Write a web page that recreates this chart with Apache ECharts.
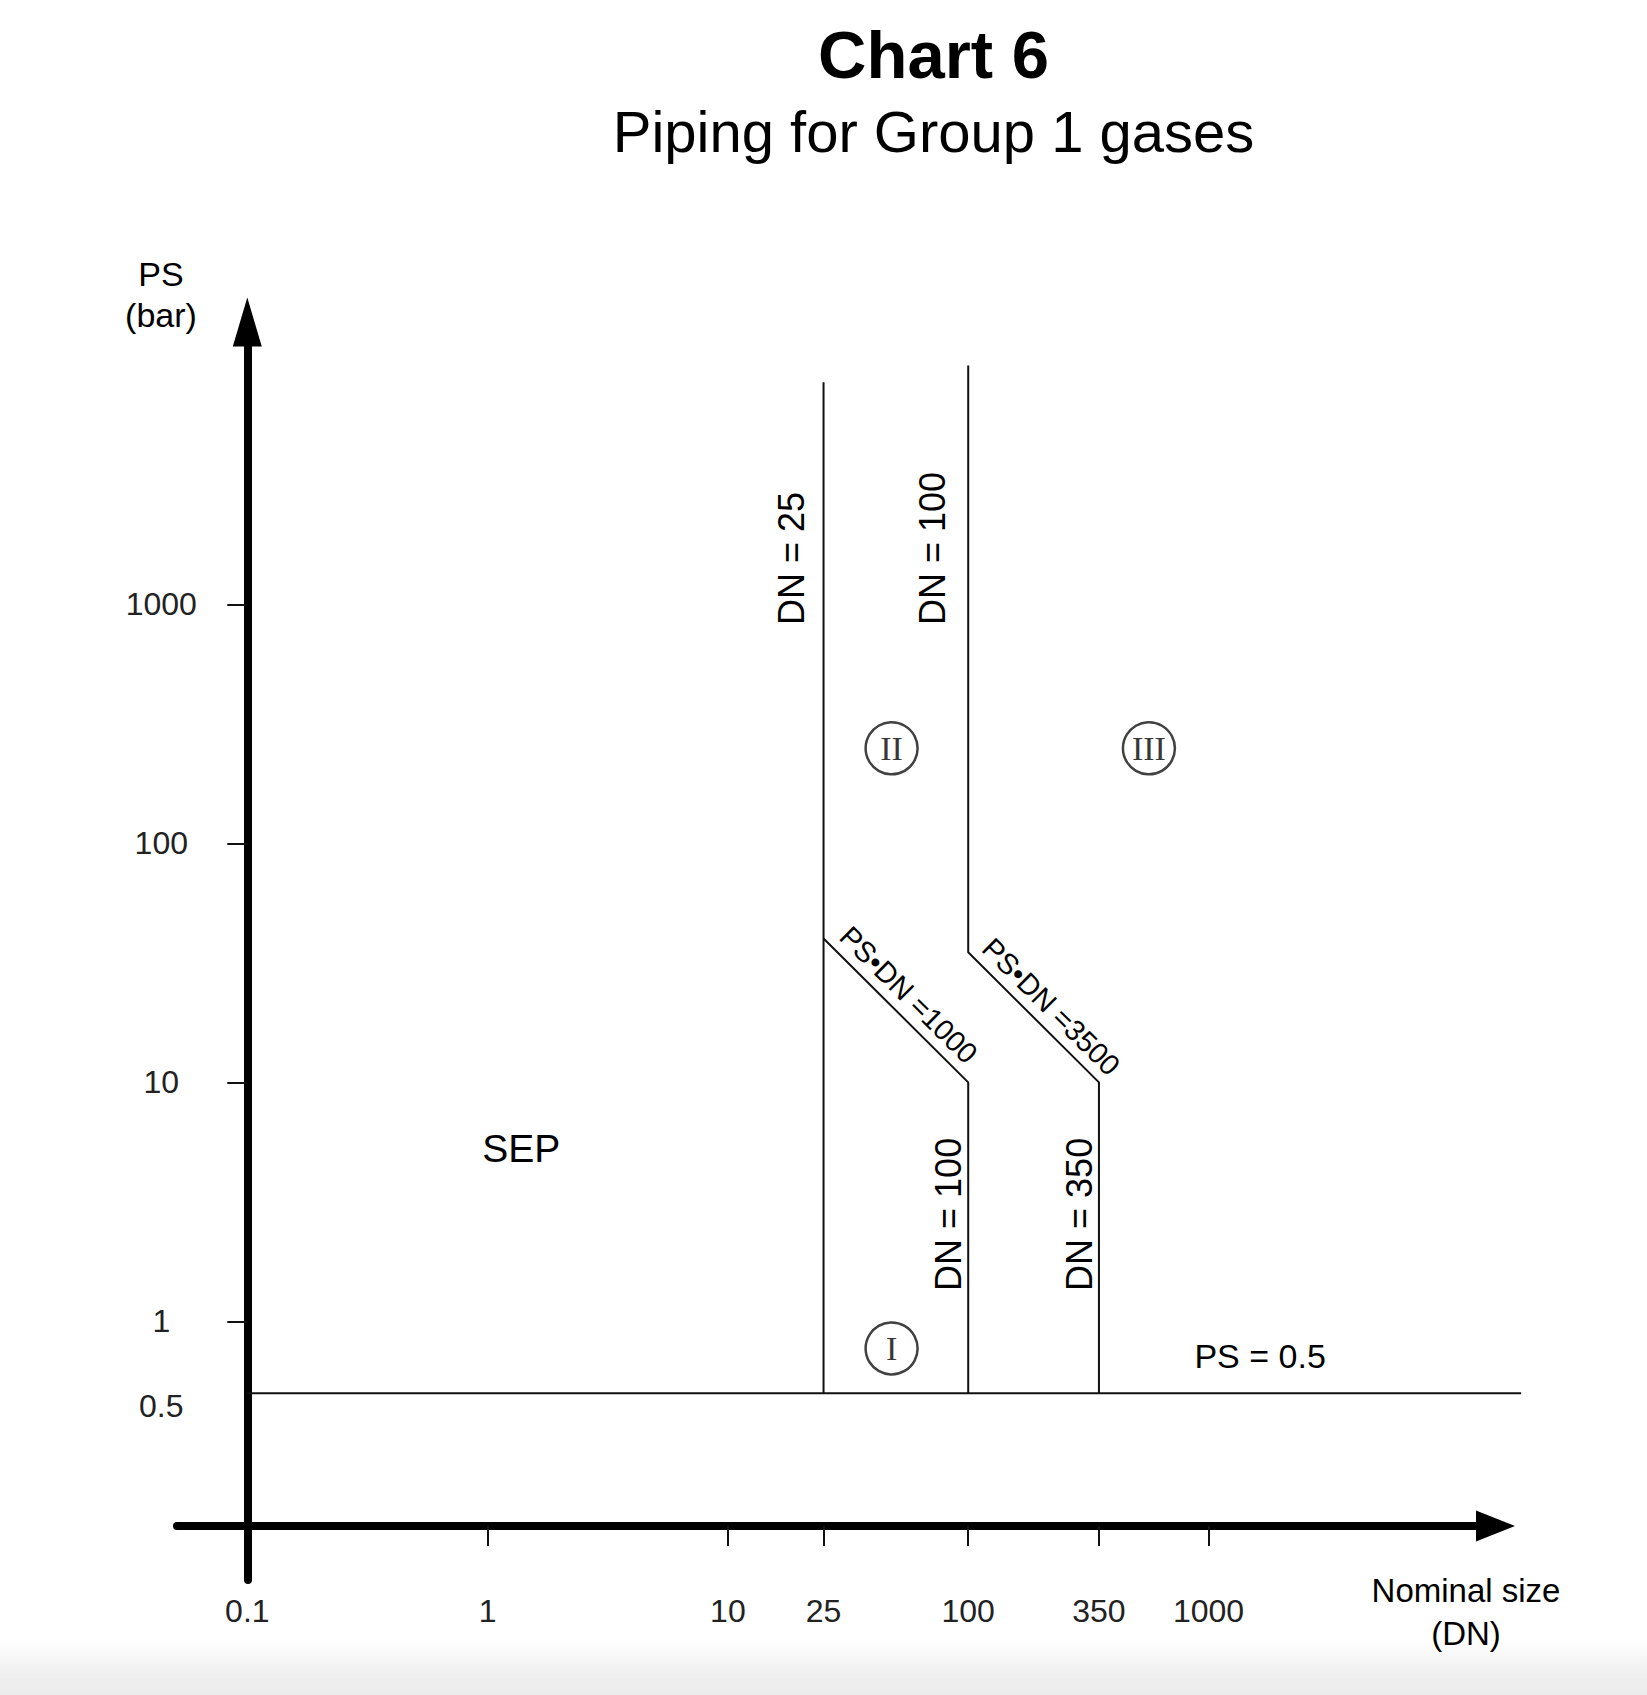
<!DOCTYPE html>
<html>
<head>
<meta charset="utf-8">
<title>Chart 6 - Piping for Group 1 gases</title>
<script src="https://cdn.jsdelivr.net/npm/echarts@6.0.0/dist/echarts.min.js"></script>
<style>
    html, body { margin: 0; padding: 0; background: #fff; }
    #chart { width: 1647px; height: 1695px; }
</style>
</head>
<body>
<div id="chart"></div>
<script>
// tick labels of both log axes
var xLabelValues = [0.1, 1, 10, 25, 100, 350, 1000];
var xTickValues = [1, 10, 25, 100, 350, 1000];
var yLabelValues = [0.5, 1, 10, 100, 1000];
var yTickValues = [1, 10, 100, 1000];

// axis ranges (DN, PS) - the arrows run a bit past the last ticks
var xRange = [0.05097, 15644];
var yRange = [0.08268, 15200];

// category boundaries, points are [DN, PS]
var sepLine = [[25, 8500], [25, 0.5]];
var cat1Line = [[25, 40], [100, 10], [100, 0.5]];
var cat2Line = [[100, 10000], [100, 35], [350, 10], [350, 0.5]];
var psLine = [[0.1, 0.5], [20000, 0.5]];

// category marks
var regionNames = ['I', 'II', 'III'];
var regionDN = [48, 48, 565];
var regionPS = [0.77, 250, 250];

var font = '"Liberation Sans", Arial, sans-serif';
var serif = '"Liberation Serif", "Times New Roman", serif';

function lg(v) { return Math.log10(v); }
function toLog(pts) { return pts.map(function (p) { return [lg(p[0]), lg(p[1])]; }); }
function fmt(v) { return String(+Math.pow(10, v).toPrecision(6)); }

function boundary(name, pts) {
    return {
        name: name,
        type: 'line',
        data: toLog(pts),
        symbol: 'none',
        clip: false,
        silent: true,
        lineStyle: { color: '#111', width: 2 },
        z: 3
    };
}

var chart = echarts.init(document.getElementById('chart'), null, { renderer: 'svg' });

var option = {
    animation: false,
    grid: {
        left: 177,
        right: 151.5,
        top: 322,
        bottom: 115,
        containLabel: false,
        outerBoundsMode: 'none'
    },
    xAxis: {
        type: 'value',
        min: lg(xRange[0]),
        max: lg(xRange[1]),
        position: 'bottom',
        offset: -54,
        splitLine: { show: false },
        axisLine: {
            show: true,
            onZero: false,
            symbol: ['none', 'triangle'],
            symbolSize: [31, 39],
            lineStyle: { color: '#000', width: 8 }
        },
        axisTick: {
            show: true,
            customValues: xTickValues.map(lg),
            length: 20,
            lineStyle: { color: '#111', width: 2 }
        },
        axisLabel: {
            customValues: xLabelValues.map(lg),
            formatter: fmt,
            margin: 85,
            verticalAlign: 'middle',
            fontSize: 32,
            fontFamily: font,
            color: '#222'
        }
    },
    yAxis: {
        type: 'value',
        min: lg(yRange[0]),
        max: lg(yRange[1]),
        position: 'left',
        offset: -70.3,
        splitLine: { show: false },
        axisLine: {
            show: true,
            onZero: false,
            symbol: ['none', 'triangle'],
            symbolSize: [29, 49],
            lineStyle: { color: '#000', width: 8 }
        },
        axisTick: {
            show: true,
            customValues: yTickValues.map(lg),
            length: 20,
            lineStyle: { color: '#111', width: 2 }
        },
        axisLabel: {
            customValues: yLabelValues.map(lg),
            formatter: function (v) {
                var s = fmt(v);
                return s === '0.5' ? '{low|' + s + '}' : s;
            },
            margin: 86,
            align: 'center',
            verticalAlign: 'middle',
            fontSize: 32,
            fontFamily: font,
            color: '#222',
            rich: {
                low: { fontSize: 32, fontFamily: font, color: '#222', padding: [25, 0, 0, 0] }
            }
        }
    },
    series: [
        boundary('SEP / I', sepLine),
        boundary('I / II', cat1Line),
        boundary('II / III', cat2Line),
        {
            name: 'Category',
            type: 'scatter',
            silent: true,
            symbol: 'circle',
            symbolSize: 52,
            itemStyle: { color: '#fff', borderColor: '#111', borderWidth: 2.5 },
            label: {
                show: true,
                position: 'inside',
                formatter: '{b}',
                fontFamily: serif,
                fontSize: 34,
                color: '#000'
            },
            data: regionNames.map(function (n, i) {
                return { name: n, value: [lg(regionDN[i]), lg(regionPS[i])] };
            }),
            z: 5
        }
    ]
};
chart.setOption(option);

// texts (and the PS = 0.5 line, which runs past the axis end) placed from the data coordinates
function toPx(p) { return chart.convertToPixel({ gridIndex: 0 }, [lg(p[0]), lg(p[1])]); }

function text(str, x, y, size, opts) {
    opts = opts || {};
    return {
        type: 'text',
        x: x,
        y: y,
        rotation: opts.rotation || 0,
        z: 10,
        silent: true,
        style: {
            text: str,
            fontSize: size,
            fontFamily: opts.family || font,
            fontWeight: opts.weight || 'normal',
            fill: '#000',
            lineHeight: opts.lineHeight,
            align: opts.align || 'center',
            textAlign: opts.align || 'center',
            verticalAlign: 'middle',
            textVerticalAlign: 'middle'
        }
    };
}

var notes = [
    { text: 'DN = 25', at: [25, 820], dx: -32, dy: 0, vertical: true, size: 36 },
    { text: 'DN = 100', at: [100, 820], dx: -36, dy: 0, vertical: true, size: 36 },
    { text: 'DN = 100', at: [100, 1.34], dx: -19.5, dy: 0, vertical: true, size: 36 },
    { text: 'DN = 350', at: [350, 1.34], dx: -19.5, dy: 0, vertical: true, size: 36 },
    { text: 'SEP', at: [1.38, 5.3], dx: 0, dy: 0, vertical: false, size: 39 },
    { text: 'PS = 0.5', at: [1640, 0.5], dx: 0, dy: -37, vertical: false, size: 34 }
];

var slopeNotes = [
    { text: 'PS\u2022DN =1000', from: cat1Line[0], to: cat1Line[1], shift: 20, along: -2 },
    { text: 'PS\u2022DN =3500', from: cat2Line[1], to: cat2Line[2], shift: 20, along: 5 }
];

var graphics = [
    {
        type: 'rect',
        silent: true,
        shape: { x: 0, y: 1642, width: 1647, height: 53 },
        style: {
            fill: new echarts.graphic.LinearGradient(0, 0, 0, 1, [
                { offset: 0, color: '#ffffff' },
                { offset: 0.55, color: '#f0f0f0' },
                { offset: 1, color: '#ececec' }
            ])
        }
    },
    {
        type: 'polyline',
        silent: true,
        z: 3,
        shape: { points: psLine.map(toPx) },
        style: { stroke: '#111', lineWidth: 2, fill: null }
    },
    text('Chart 6', 933.5, 54, 67, { weight: 'bold' }),
    text('Piping for Group 1 gases', 933.5, 131, 58),
    text('PS\n(bar)', 161, 294, 34, { lineHeight: 41 }),
    text('Nominal size\n(DN)', 1466, 1612, 33, { lineHeight: 43 })
];

notes.forEach(function (n) {
    var p = toPx(n.at);
    graphics.push(text(n.text, p[0] + n.dx, p[1] + n.dy, n.size, n.vertical
        ? { rotation: Math.PI / 2, align: 'left' } : {}));
});

slopeNotes.forEach(function (n) {
    var a = toPx(n.from), b = toPx(n.to);
    var ang = Math.atan2(b[1] - a[1], b[0] - a[0]);
    var cx = (a[0] + b[0]) / 2 + Math.cos(ang) * n.along + Math.sin(ang) * n.shift;
    var cy = (a[1] + b[1]) / 2 + Math.sin(ang) * n.along - Math.cos(ang) * n.shift;
    graphics.push(text(n.text, cx, cy, 29, { rotation: -ang }));
});

chart.setOption({ graphic: graphics });
</script>
</body>
</html>
